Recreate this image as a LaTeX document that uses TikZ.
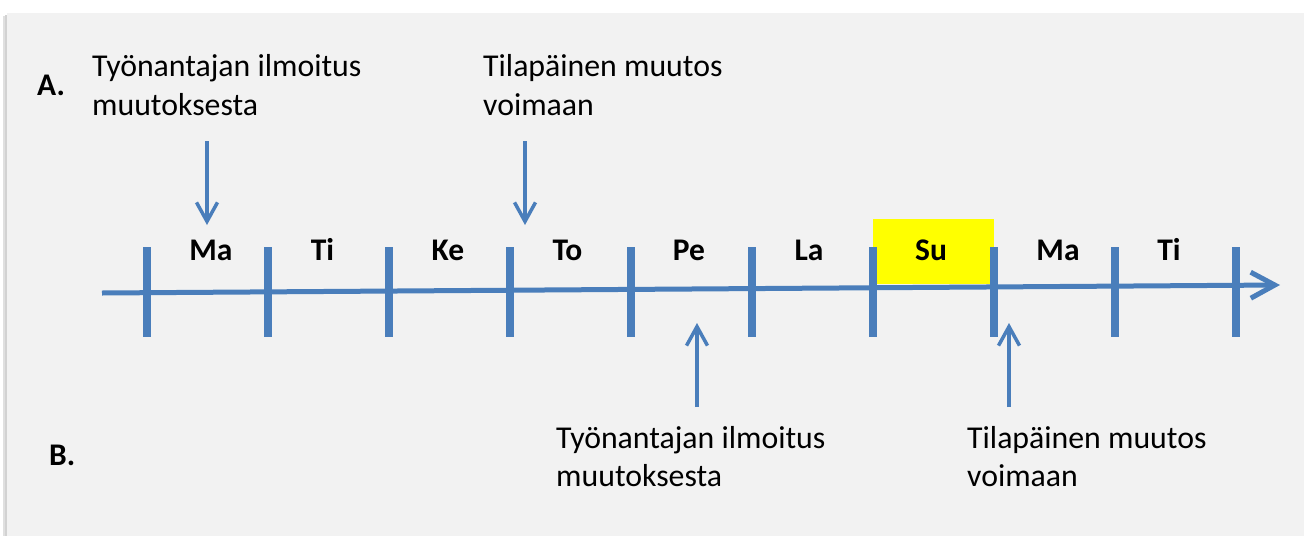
\documentclass[tikz,border=0pt]{standalone}
\usepackage{fontspec}
\setmainfont{Carlito}
\usetikzlibrary{arrows.meta}
\definecolor{axisblue}{HTML}{4A7EBB}
\definecolor{panelgray}{HTML}{F2F2F2}
\definecolor{shadowgray}{HTML}{E0E0E0}
\definecolor{shadowgraydark}{HTML}{D2D2D2}
\definecolor{hiyellow}{HTML}{FFFF00}
\begin{document}
\begin{tikzpicture}[x=1pt,y=-1pt,
  txt/.style={font=\fontsize{31.8}{38.5}\selectfont, inner sep=0pt, align=left, anchor=base west},
  lbl/.style={font=\fontsize{31.5}{38.5}\selectfont\bfseries, inner sep=0pt, anchor=base},
  tickline/.style={draw=axisblue, line width=7.5pt},
  axisline/.style={draw=axisblue, line width=5pt, -{Straight Barb[length=24pt,width=26pt,line width=5pt]}},
  pointer/.style={draw=axisblue, line width=3.5pt, -{Straight Barb[length=19pt,width=21pt,line width=3.5pt]}}]
\useasboundingbox (0,0) rectangle (1304,536);
\fill[white] (0,0) rectangle (1304,536);
\fill[shadowgray] (2.5,16) rectangle (7,536);
\fill[shadowgraydark] (5,15) rectangle (7,536);
\fill[panelgray] (7,13) rectangle (1304,536);
% highlighted Sunday
\fill[hiyellow] (873,219) rectangle (994,284);
% axis
\coordinate (ax0) at (102,293);
\coordinate (ax1) at (1280,285);
\draw[axisline] (ax0) -- (ax1);
% ticks
\foreach \x [count=\i] in {147,268,389,510,631,752,873,994,1115,1236}{
  \coordinate (t\i a) at (\x,247);
  \coordinate (t\i b) at (\x,337);
  \draw[tickline] (t\i a) -- (t\i b);
}
% day labels
\node[lbl] (d1) at (211,260.5) {Ma};
\node[lbl] (d2) at (322.5,260.5) {Ti};
\node[lbl] (d3) at (448,260.5) {Ke};
\node[lbl] (d4) at (567.5,260.5) {To};
\node[lbl] (d5) at (689,260.5) {Pe};
\node[lbl] (d6) at (809,260.5) {La};
\node[lbl] (d7) at (931,260.5) {Su};
\node[lbl] (d8) at (1058,260.5) {Ma};
\node[lbl] (d9) at (1169,260.5) {Ti};
% row labels
\node[lbl, anchor=base west] (A) at (37,95) {A.};
\node[lbl, anchor=base west] (B) at (49,465) {B.};
% texts (anchor = baseline of last line)
\node[txt] (a1) at (92,115) {Työnantajan ilmoitus\\muutoksesta};
\node[txt] (a2) at (483,115) {Tilapäinen muutos\\voimaan};
\node[txt] (b1) at (556,486.5) {Työnantajan ilmoitus\\muutoksesta};
\node[txt] (b2) at (967,486.5) {Tilapäinen muutos\\voimaan};
% pointers
\coordinate (pa1s) at (207,141);
\coordinate (pa1e) at (207,225);
\coordinate (pa2s) at (525,141);
\coordinate (pa2e) at (525,225);
\coordinate (pb1s) at (697,407);
\coordinate (pb1e) at (697,323);
\coordinate (pb2s) at (1009,407);
\coordinate (pb2e) at (1009,323);
\draw[pointer] (pa1s) -- (pa1e);
\draw[pointer] (pa2s) -- (pa2e);
\draw[pointer] (pb1s) -- (pb1e);
\draw[pointer] (pb2s) -- (pb2e);
\end{tikzpicture}
\end{document}
